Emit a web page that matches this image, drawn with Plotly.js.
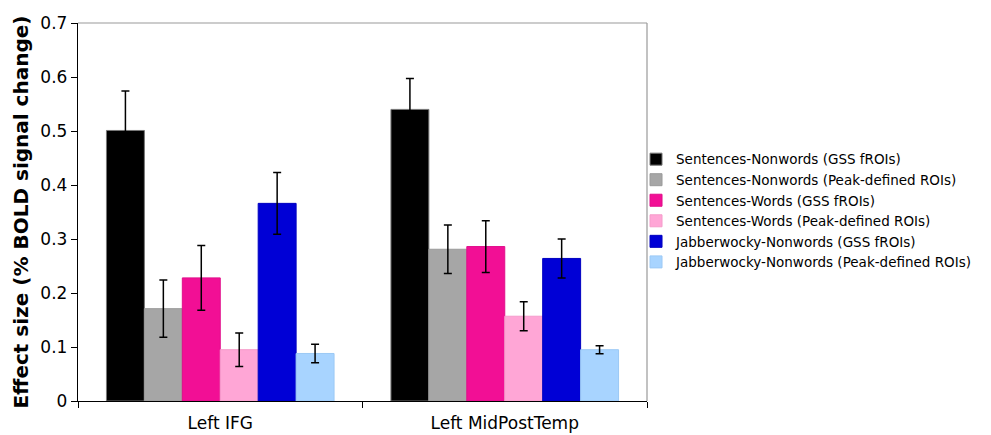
<!DOCTYPE html>
<html><head><meta charset="utf-8">
<script src="https://cdn.plot.ly/plotly-3.0.1.min.js"></script>
<style>body{margin:0;background:#fff}#c{width:991px;height:435px}</style>
</head><body><div id="c"></div>
<script>
const categories = ["Left IFG", "Left MidPostTemp"];
const seriesNames = [
  "Sentences-Nonwords (GSS fROIs)",
  "Sentences-Nonwords (Peak-defined ROIs)",
  "Sentences-Words (GSS fROIs)",
  "Sentences-Words (Peak-defined ROIs)",
  "Jabberwocky-Nonwords (GSS fROIs)",
  "Jabberwocky-Nonwords (Peak-defined ROIs)"
];
const sentNonGSS = [0.501, 0.540];
const sentNonPeak = [0.171, 0.281];
const sentWordsGSS = [0.228, 0.286];
const sentWordsPeak = [0.095, 0.157];
const jabNonGSS = [0.366, 0.264];
const jabNonPeak = [0.088, 0.095];
const errSentNonGSS = [0.073, 0.057];
const errSentNonPeak = [0.053, 0.045];
const errSentWordsGSS = [0.060, 0.048];
const errSentWordsPeak = [0.031, 0.027];
const errJabNonGSS = [0.057, 0.036];
const errJabNonPeak = [0.017, 0.0075];
const yTicks = [0, 0.1, 0.2, 0.3, 0.4, 0.5, 0.6, 0.7];
const yTickLabels = ["0", "0.1", "0.2", "0.3", "0.4", "0.5", "0.6", "0.7"];

const values = [sentNonGSS, sentNonPeak, sentWordsGSS, sentWordsPeak, jabNonGSS, jabNonPeak];
const errs = [errSentNonGSS, errSentNonPeak, errSentWordsGSS, errSentWordsPeak, errJabNonGSS, errJabNonPeak];
const colors = ["#000000", "#a6a6a6", "#f20f95", "#ffa6d6", "#0000d6", "#a8d4ff"];
const outlines = ["#777777", "#9a9a9a", "#e00e8a", "#f59ccb", "#0000c0", "#9cc9f5"];

const traces = values.map((v, i) => ({
  type: "bar", x: categories, y: v, name: seriesNames[i],
  marker: {color: colors[i], line: {color: outlines[i], width: 1}},
  error_y: {type: "data", array: errs[i], visible: true, color: "#000000", thickness: 1.5, width: 4}
}));

const layout = {
  width: 991, height: 435,
  margin: {l: 78, r: 344, t: 23, b: 34},
  paper_bgcolor: "#ffffff", plot_bgcolor: "#ffffff",
  barmode: "group", bargap: 0.2, bargroupgap: 0,
  font: {family: "DejaVu Sans, Verdana, sans-serif", color: "#000"},
  xaxis: {
    showline: true, linecolor: "#000", linewidth: 1.2,
    ticks: "outside", tickson: "boundaries", ticklen: 6, tickcolor: "#000",
    tickfont: {size: 17}, ticklabelstandoff: 6, showgrid: false, zeroline: false
  },
  yaxis: {
    range: [0, 0.7], tickvals: yTicks, ticktext: yTickLabels,
    showline: true, linecolor: "#000", linewidth: 1.2,
    ticks: "outside", ticklen: 6, tickcolor: "#000",
    tickfont: {size: 17}, showgrid: false, zeroline: false,
    title: {text: "<b>Effect size (% BOLD signal change)</b>", font: {size: 20}, standoff: 6}
  },
  shapes: [
    {type: "line", xref: "paper", yref: "paper", x0: 0, x1: 1, y0: 1, y1: 1, line: {color: "#999", width: 1.2}},
    {type: "line", xref: "paper", yref: "paper", x0: 1, x1: 1, y0: 0, y1: 1, line: {color: "#999", width: 1.2}}
  ],
  legend: {
    x: 0.9807, xanchor: "left", y: 0.503, yanchor: "middle",
    font: {size: 13.5}, tracegroupgap: 0, itemwidth: 30,
    bgcolor: "rgba(0,0,0,0)"
  },
  showlegend: true
};

Plotly.newPlot("c", traces, layout, {displayModeBar: false, staticPlot: true});
</script>
</body></html>
